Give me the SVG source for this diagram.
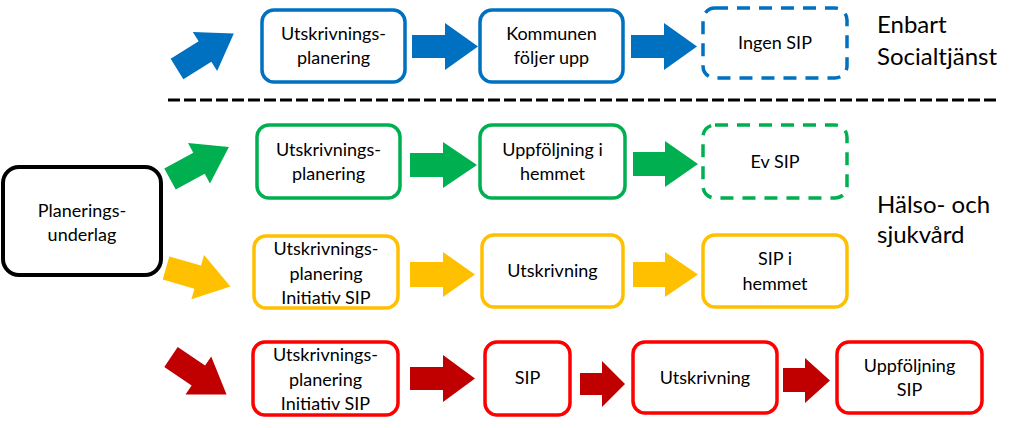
<svg xmlns="http://www.w3.org/2000/svg" xmlns:xlink="http://www.w3.org/1999/xlink" width="1024" height="428" viewBox="0 0 1024 428">
<style>
.box{fill:#fff;stroke-width:3.5}
.dash{stroke-dasharray:13 9}
.blue{stroke:#0070C0}
.green{stroke:#00B050}
.yellow{stroke:#FFC000}
.red{stroke:#FF0000}
.t{font-family:Lato,"Open Sans","Liberation Sans",sans-serif;font-size:18px;fill:#000;text-anchor:middle}
.big{font-family:Lato,"Open Sans","Liberation Sans",sans-serif;font-size:24px;fill:#000}
</style>
<defs>
<polygon id="arr" points="0,-12 33,-12 33,-23 67,0 33,23 33,12 0,12"/>
</defs>
<rect width="1024" height="428" fill="#fff"/>
<line x1="168" y1="100" x2="1000" y2="100" stroke="#000" stroke-width="3" stroke-dasharray="12 4"/>
<g id="connectors">
<use xlink:href="#arr" fill="#0070C0" transform="translate(177,69) rotate(-32)"/>
<use xlink:href="#arr" fill="#00B050" transform="translate(170,179) rotate(-28.5)"/>
<use xlink:href="#arr" fill="#FFC000" transform="translate(166,268) rotate(16)"/>
<use xlink:href="#arr" fill="#C00000" transform="translate(171,357) rotate(34)"/>
<polygon fill="#0070C0" points="412,35 445,35 445,23 478,46.5 445,70 445,58 412,58"/>
<polygon fill="#0070C0" points="631,35 664,35 664,23 697,46.5 664,70 664,58 631,58"/>
<polygon fill="#00B050" points="410,153 443,153 443,142 477,165 443,188 443,177 410,177"/>
<polygon fill="#00B050" points="633,152 665,152 665,141 698,164 665,187 665,176 633,176"/>
<polygon fill="#FFC000" points="410,262 443,262 443,252 475,274.5 443,297 443,287 410,287"/>
<polygon fill="#FFC000" points="633,262 665,262 665,252 698,274.5 665,297 665,287 633,287"/>
<polygon fill="#C00000" points="410,367 443,367 443,355 475,378.5 443,402 443,390 410,390"/>
<polygon fill="#C00000" points="580,373 602,373 602,361 625,384 602,407 602,395 580,395"/>
<polygon fill="#C00000" points="783,368 805,368 805,358 830,380.5 805,403 805,392 783,392"/>
</g>
<g id="planeringsunderlag">
<rect x="3" y="167" width="158" height="108" rx="16" fill="#fff" stroke="#000" stroke-width="4"/>
<text class="t" x="82" y="217">Planerings-</text>
<text class="t" x="82" y="241">underlag</text>
</g>
<g id="b1"><rect class="box blue" x="262" y="10" width="143" height="72" rx="12"/>
<text class="t" x="333.5" y="40">Utskrivnings-</text><text class="t" x="333.5" y="64">planering</text></g>
<g id="b2"><rect class="box blue" x="480" y="10" width="143" height="72" rx="12"/>
<text class="t" x="551.5" y="40">Kommunen</text><text class="t" x="551.5" y="64">följer upp</text></g>
<g id="b3"><rect class="box blue dash" x="703" y="8" width="144" height="70" rx="12"/>
<text class="t" x="775" y="49">Ingen SIP</text></g>
<g id="g1"><rect class="box green" x="257" y="125" width="143" height="73" rx="12"/>
<text class="t" x="328.5" y="156">Utskrivnings-</text><text class="t" x="328.5" y="180">planering</text></g>
<g id="g2"><rect class="box green" x="480" y="125" width="145" height="73" rx="12"/>
<text class="t" x="552.5" y="156">Uppföljning i</text><text class="t" x="552.5" y="180">hemmet</text></g>
<g id="g3"><rect class="box green dash" x="703" y="125" width="144" height="73" rx="12"/>
<text class="t" x="775" y="168">Ev SIP</text></g>
<g id="y1"><rect class="box yellow" x="254" y="236" width="144" height="72" rx="12"/>
<text class="t" x="326" y="255">Utskrivnings-</text><text class="t" x="326" y="280">planering</text><text class="t" x="326" y="304">Initiativ SIP</text></g>
<g id="y2"><rect class="box yellow" x="482" y="235" width="141" height="72" rx="12"/>
<text class="t" x="552.5" y="277">Utskrivning</text></g>
<g id="y3"><rect class="box yellow" x="703" y="235" width="144" height="72" rx="12"/>
<text class="t" x="775" y="265">SIP i</text><text class="t" x="775" y="290">hemmet</text></g>
<g id="r1"><rect class="box red" x="253" y="342" width="145" height="73" rx="12"/>
<text class="t" x="325.5" y="361">Utskrivnings-</text><text class="t" x="325.5" y="386">planering</text><text class="t" x="325.5" y="410">Initiativ SIP</text></g>
<g id="r2"><rect class="box red" x="485" y="342" width="85" height="73" rx="12"/>
<text class="t" x="527.5" y="384">SIP</text></g>
<g id="r3"><rect class="box red" x="633" y="342" width="144" height="71" rx="12"/>
<text class="t" x="705" y="384">Utskrivning</text></g>
<g id="r4"><rect class="box red" x="837" y="342" width="145" height="71" rx="12"/>
<text class="t" x="909.5" y="372">Uppföljning</text><text class="t" x="909.5" y="396">SIP</text></g>
<g id="labels">
<text class="big" x="877" y="33">Enbart</text>
<text class="big" x="877" y="65">Socialtjänst</text>
<text class="big" x="877" y="213">Hälso- och</text>
<text class="big" x="877" y="243">sjukvård</text>
</g>
</svg>
